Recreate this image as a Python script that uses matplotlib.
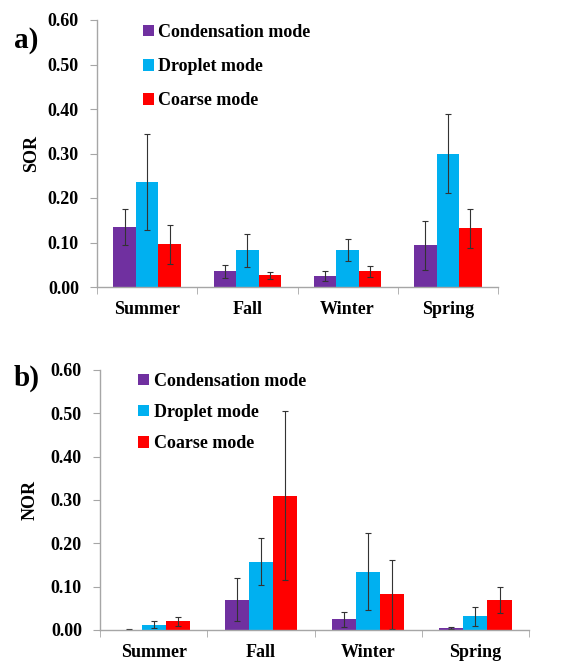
import numpy as np
import matplotlib
matplotlib.use("Agg")
import matplotlib.pyplot as plt

plt.rcParams['font.family'] = ['Liberation Serif', 'DejaVu Serif']
plt.rcParams['font.weight'] = 'bold'

seasons = ["Summer", "Fall", "Winter", "Spring"]
modes = ["Condensation mode", "Droplet mode", "Coarse mode"]
colors = ["#7030A0", "#00B0F0", "#FF0000"]
yticks = [0.0, 0.1, 0.2, 0.3, 0.4, 0.5, 0.6]

# SOR (panel a): mean and error per mode, per season
sor_cond = [0.135, 0.035, 0.025, 0.094]
sor_drop = [0.236, 0.083, 0.083, 0.300]
sor_coarse = [0.096, 0.026, 0.035, 0.132]
sor_cond_err = [0.040, 0.015, 0.011, 0.055]
sor_drop_err = [0.108, 0.037, 0.025, 0.088]
sor_coarse_err = [0.044, 0.007, 0.013, 0.044]

# NOR (panel b)
nor_cond = [0.001, 0.070, 0.025, 0.004]
nor_drop = [0.012, 0.158, 0.135, 0.032]
nor_coarse = [0.020, 0.310, 0.082, 0.070]
nor_cond_err = [0.001, 0.050, 0.017, 0.002]
nor_drop_err = [0.008, 0.055, 0.089, 0.022]
nor_coarse_err = [0.010, 0.195, 0.080, 0.030]

W, H = 563, 661
fig = plt.figure(figsize=(W / 100, H / 100), dpi=100)
fig.patch.set_facecolor("white")

axis_gray = "#a6a6a6"


def panel(rect, vals, errs, ylabel, tag, tag_xy, leg_anchor, spacing, ylab_x):
    ax = fig.add_axes(rect)
    x = np.arange(len(seasons))
    w = 0.225
    for i, (v, e) in enumerate(zip(vals, errs)):
        ax.bar(x + (i - 1) * w, v, w, color=colors[i], label=modes[i],
               yerr=e, capsize=2.5,
               error_kw=dict(ecolor="#333333", elinewidth=0.8, capthick=0.8))
    ax.set_xlim(-0.5, len(seasons) - 0.5)
    ax.set_ylim(0, 0.6)
    ax.set_yticks(yticks)
    ax.set_yticklabels(["%.2f" % t for t in yticks], fontsize=13, fontweight="bold")
    ax.set_xticks(x)
    ax.set_xticklabels(seasons, fontsize=13, fontweight="bold")
    ax.set_xticks(np.arange(-0.5, len(seasons)), minor=True)
    ax.tick_params(axis="x", which="major", length=0, pad=10)
    ax.tick_params(axis="x", which="minor", length=5, color=axis_gray, direction="out")
    ax.tick_params(axis="y", length=5, color=axis_gray, direction="out", pad=8)
    for s in ["top", "right"]:
        ax.spines[s].set_visible(False)
    for s in ["left", "bottom"]:
        ax.spines[s].set_color(axis_gray)
        ax.spines[s].set_linewidth(1.0)
    ax.set_ylabel(ylabel, fontsize=13, fontweight="bold")
    ax.yaxis.set_label_coords(ylab_x, 0.5)
    fig.text(tag_xy[0], tag_xy[1], tag, fontsize=21, fontweight="bold",
             ha="left", va="center")
    ax.legend(loc="upper left", bbox_to_anchor=leg_anchor, frameon=False,
              prop=dict(size=13, weight="bold"), handlelength=0.6,
              handleheight=0.6, handletextpad=0.25, labelspacing=spacing,
              borderaxespad=0, borderpad=0)
    return ax


panel([97 / W, 1 - 287 / H, 401 / W, 267 / H],
      [sor_cond, sor_drop, sor_coarse],
      [sor_cond_err, sor_drop_err, sor_coarse_err],
      "SOR", "a)", (14 / W, 1 - 40 / H), (0.115, 0.985), 0.95, -0.142)

panel([100 / W, 1 - 630 / H, 429 / W, 260 / H],
      [nor_cond, nor_drop, nor_coarse],
      [nor_cond_err, nor_drop_err, nor_coarse_err],
      "NOR", "b)", (14 / W, 1 - 378 / H), (0.089, 0.99), 0.8, -0.144)

fig.savefig("out.png", dpi=100)
